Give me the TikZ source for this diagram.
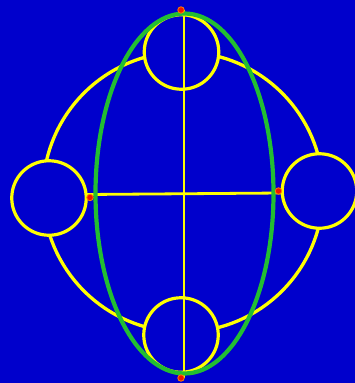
\documentclass[tikz,border=0pt]{standalone}
\usetikzlibrary{positioning}
\definecolor{bgBlue}{RGB}{0,0,204}
\definecolor{ringYellow}{RGB}{255,255,0}
\definecolor{ovalGreen}{RGB}{34,190,50}
\definecolor{dotRed}{RGB}{240,20,0}

\begin{document}
\begin{tikzpicture}[
    x=1pt, y=-1pt,
    ring/.style={draw=ringYellow, line width=3.3pt},
    small/.style={circle, draw=ringYellow, line width=3.2pt, fill=bgBlue, minimum size=74.5pt, inner sep=0pt},
    oval/.style={draw=ovalGreen, line width=4.2pt},
    axis/.style={draw=ringYellow, line width=2.8pt},
    dot/.style={circle, fill=dotRed, draw=orange, line width=0.8pt, minimum size=6.5pt, inner sep=0pt},
]
% background
\fill[bgBlue] (0,0) rectangle (355,383);
\useasboundingbox (0,0) rectangle (355,383);

% big yellow circle
\coordinate (O) at (183,192);
\draw[ring] (O) circle[radius=140];

% small circles
\node[small] (top) at (181.5,52) {};
\node[small] (bottom) at (181,335) {};
\node[small] (left) at (49,198) {};
\node[small] (right) at (319.5,191) {};

% axes
\coordinate (vt) at (184,10);
\coordinate (vb) at (184,378);
\coordinate (hl) at (87,194.5);
\coordinate (hr) at (281,193);
\draw[axis] (vt) -- (vb);
\draw[axis] (hl) -- (hr);

% green ellipse
\draw[oval] (184.5,193.5) ellipse[x radius=89, y radius=180];

% end points
\node[dot] (dtop) at (181,10) {};
\node[dot] (dbottom) at (181,378) {};
\node[dot] (dleft) at (90,197.5) {};
\node[dot] (dright) at (278.5,191) {};
\end{tikzpicture}
\end{document}
